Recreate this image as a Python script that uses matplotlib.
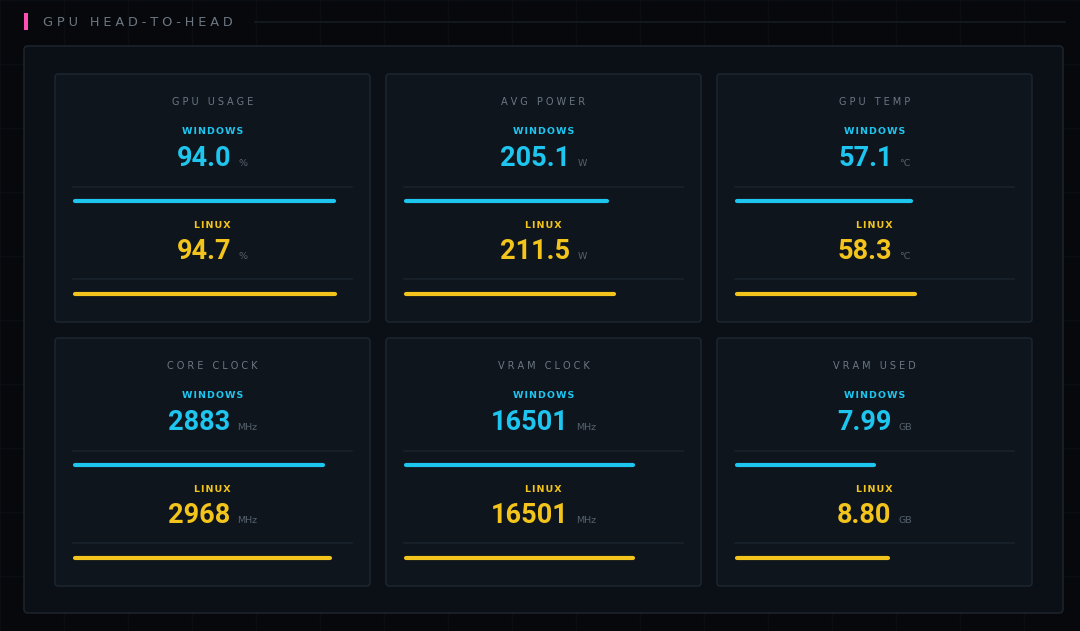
import matplotlib
matplotlib.use("Agg")
import matplotlib.pyplot as plt
from matplotlib.patches import FancyBboxPatch, Rectangle

# ---------------- data ----------------
metrics = ["GPU USAGE", "AVG POWER", "GPU TEMP", "CORE CLOCK", "VRAM CLOCK", "VRAM USED"]
windows_vals = [94.0, 205.1, 57.1, 2883, 16501, 7.99]
linux_vals = [94.7, 211.5, 58.3, 2968, 16501, 8.80]
value_fmt = ["{:.1f}", "{:.1f}", "{:.1f}", "{:.0f}", "{:.0f}", "{:.2f}"]
units = ["%", "W", "°C", "MHz", "MHz", "GB"]
bar_max = [100, 280, 90, 3200, 20000, 16]
series_names = ["WINDOWS", "LINUX"]
title = "GPU HEAD-TO-HEAD"

# ---------------- style ----------------
W, H = 1080, 631
BG = "#06080c"
GRID = "#0a0e13"
PANEL = "#0b1017"
PANEL_EDGE = "#1c232b"
CARD = "#0e151d"
CARD_EDGE = "#1d2630"
DIVIDER = "#1b232c"
CYAN = "#1ec6ef"
YELLOW = "#f3c41c"
GRAY = "#6c7782"
UNIT_GRAY = "#56616c"
PINK = "#ff4fb3"

NUM_FONT = ["Roboto", "DejaVu Sans"]
LBL_FONT = ["DejaVu Sans"]

THIN = "\u2009"
HAIR = "\u200a"


def spaced(s, sep):
    words = s.split(" ")
    return (sep + " " + sep).join(sep.join(w) for w in words)


fig = plt.figure(figsize=(W / 100, H / 100), dpi=100, facecolor=BG)
ax = fig.add_axes([0, 0, 1, 1])
ax.set_xlim(0, W)
ax.set_ylim(H, 0)
ax.axis("off")
ax.set_facecolor(BG)


def fig_rect(x, y, w, h):
    return [x / W, 1 - (y + h) / H, w / W, h / H]


# background grid
for gx in range(0, W + 1, 64):
    ax.plot([gx, gx], [0, H], color=GRID, lw=1, zorder=0)
for gy in range(0, H + 1, 64):
    ax.plot([0, W], [gy, gy], color=GRID, lw=1, zorder=0)

# header
ax.add_patch(Rectangle((24, 13), 3.5, 17, facecolor=PINK, edgecolor="none", zorder=2))
ax.text(43, 22, spaced(title, THIN + HAIR), color=GRAY, fontsize=9.3,
        family=LBL_FONT, va="center", ha="left", zorder=3)
ax.plot([255, 1065], [21.5, 21.5], color="#161b22", lw=1.2, zorder=1)

# outer panel
ax.add_patch(FancyBboxPatch((24, 46), 1039, 567, boxstyle="round,pad=0,rounding_size=4",
                            facecolor=PANEL, edgecolor=PANEL_EDGE, lw=1.2, zorder=1))

col_x = [55, 386, 717]
row_y = [74, 338]
CW, CH = 315, 248

fig.canvas.draw()
renderer = fig.canvas.get_renderer()


def value_with_unit(cx, baseline_y, val_text, unit, color):
    t = ax.text(cx, baseline_y, val_text, color=color, fontsize=19.5, fontweight="bold",
                family=NUM_FONT, ha="left", va="baseline", zorder=4)
    u = ax.text(cx, baseline_y, unit, color=UNIT_GRAY, fontsize=6.8,
                family=LBL_FONT, ha="left", va="baseline", zorder=4)
    wv = t.get_window_extent(renderer).width
    wu = u.get_window_extent(renderer).width
    gap = 7
    total = wv + gap + wu
    x0 = cx - total / 2
    t.set_x(x0)
    u.set_x(x0 + wv + gap)


for i, name in enumerate(metrics):
    r, c = divmod(i, 3)
    x0, y0 = col_x[c], row_y[r]
    cx = x0 + CW / 2
    ax.add_patch(FancyBboxPatch((x0, y0), CW, CH, boxstyle="round,pad=0,rounding_size=3",
                                facecolor=CARD, edgecolor=CARD_EDGE, lw=1.1, zorder=2))
    ax.text(cx, y0 + 28, spaced(name, THIN + HAIR), color=GRAY, fontsize=7.0,
            family=LBL_FONT, ha="center", va="center", zorder=4)

    vals = [windows_vals[i], linux_vals[i]]
    colors = [CYAN, YELLOW]
    label_off = [58, 151]
    base_off = [92, 185]
    div_off = [113, 205]
    bar_off = [127, 220]
    for k in range(2):
        ax.text(cx, y0 + label_off[k], spaced(series_names[k], HAIR), color=colors[k],
                fontsize=6.8, fontweight="bold", family=LBL_FONT,
                ha="center", va="center", zorder=4)
        value_with_unit(cx, y0 + base_off[k], value_fmt[i].format(vals[k]), units[i], colors[k])
        ax.plot([x0 + 18, x0 + 297], [y0 + div_off[k], y0 + div_off[k]],
                color=DIVIDER, lw=1.1, zorder=3)
        # bar axes: data scale 0..bar_max
        bax = fig.add_axes(fig_rect(x0 + 20, y0 + bar_off[k] - 5, 275, 10))
        bax.set_xlim(0, bar_max[i])
        bax.set_ylim(-1, 1)
        bax.axis("off")
        bax.patch.set_alpha(0)
        bax.plot([0, vals[k]], [0, 0], color=colors[k], lw=3.0,
                 solid_capstyle="round", clip_on=False)

fig.savefig("out.png", dpi=100, facecolor=BG)
